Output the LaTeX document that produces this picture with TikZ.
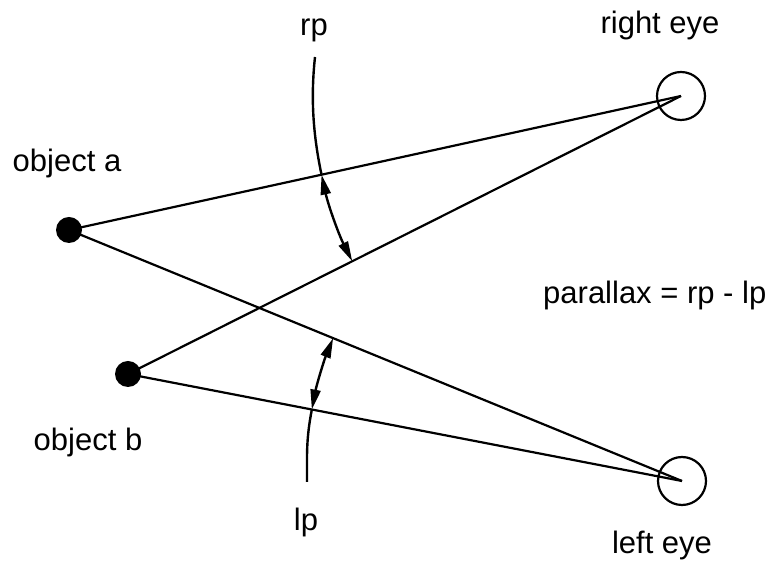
\documentclass[tikz,border=0pt]{standalone}
\usepackage{fontspec}
\setmainfont{Liberation Sans}
\usetikzlibrary{calc,arrows.meta}
\begin{document}
\begin{tikzpicture}[x=1pt,y=1pt,
  lbl/.style={inner sep=0pt,font=\fontsize{31}{36}\selectfont},
  sight/.style={line width=2.2pt},
  dotobj/.style={circle,fill=black,minimum size=26pt,inner sep=0pt},
  eyeobj/.style={circle,draw,line width=2.2pt,minimum size=48pt,inner sep=0pt},
  angarc/.style={line width=2.4pt,{Triangle[length=20pt,width=10pt]}-{Triangle[length=20pt,width=10pt]}},
  lead/.style={line width=2.4pt}]
\useasboundingbox (0,0) rectangle (778,569);
\node[dotobj] (a) at (69,339) {};
\node[dotobj] (b) at (128,195) {};
\node[eyeobj] (R) at (681,473) {};
\node[eyeobj] (L) at (682,88) {};
\draw[sight] (a.center) -- (R.center);
\draw[sight] (a.center) -- (L.center);
\draw[sight] (b.center) -- (R.center);
\draw[sight] (b.center) -- (L.center);
% rp arc
\draw[angarc] let \p1=($(a)-(R)$), \p2=($(b)-(R)$),
  \n1={atan2(\y1,\x1)}, \n2={atan2(\y2,\x2)} in
  ($(R)+(\n1:368pt)$) coordinate (rptop) arc[start angle=\n1, end angle=\n2, radius=368pt];
% lp arc
\draw[angarc] let \p1=($(a)-(L)$), \p2=($(b)-(L)$),
  \n1={atan2(\y1,\x1)}, \n2={atan2(\y2,\x2)} in
  ($(L)+(\n2:377pt)$) coordinate (lpbot) arc[start angle=\n2, end angle=\n1, radius=377pt];
\node[lbl] (rp) at (314,539) {rp};
\node[lbl] (lp) at (306,47) {lp};
\coordinate (rpend) at (315,512);
\coordinate (lpend) at (307,87);
\draw[lead] (rptop) .. controls +(102:45) and (311,475) .. (rpend);
\draw[lead] (lpbot) .. controls +(259:30) and (307,115) .. (lpend);
\node[lbl] (re) at (660,544) {right eye};
\node[lbl] (le) at (662,24) {left eye};
\node[lbl] (oa) at (67,406) {object a};
\node[lbl] (ob) at (88,127) {object b};
\node[lbl,anchor=west] (px) at (543,274) {parallax = rp - lp};
\end{tikzpicture}
\end{document}
